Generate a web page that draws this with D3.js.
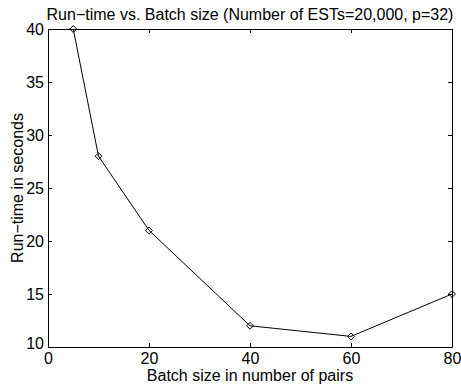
<!DOCTYPE html>
<html>
<head>
<meta charset="utf-8">
<script src="https://cdn.jsdelivr.net/npm/d3@7"></script>
<style>
  body { margin: 0; background: #fff; }
  text { font-family: "Liberation Sans", Arial, Helvetica, sans-serif; fill: #000; }
</style>
</head>
<body>
<div id="chart"></div>
<script>
// batch size (pairs) vs run-time (seconds)
var batchSizes = [5, 10, 20, 40, 60, 80];
var runTimes = [40, 28, 21, 12, 11, 15];
var xTicks = [0, 20, 40, 60, 80];
var yTicks = [10, 15, 20, 25, 30, 35, 40];

var width = 461, height = 385;
var margin = {top: 29, right: 9, bottom: 38, left: 48};
var fontSize = 16;

var svg = d3.select('#chart').append('svg')
  .attr('width', width)
  .attr('height', height);

var x = d3.scaleLinear().domain([0, 80]).range([margin.left, width - margin.right]);
var y = d3.scaleLinear().domain([10, 40]).range([height - margin.bottom, margin.top]);

var tickLen = 4;

// bottom / left axes with labels, top / right just ticks (matlab box)
var xAxis = svg.append('g')
  .attr('transform', 'translate(0,' + y(10) + ')')
  .call(d3.axisBottom(x).tickValues(xTicks).tickSizeInner(-tickLen).tickSizeOuter(0).tickPadding(6));
var yAxis = svg.append('g')
  .attr('transform', 'translate(' + x(0) + ',0)')
  .call(d3.axisLeft(y).tickValues(yTicks).tickSizeInner(-tickLen).tickSizeOuter(0).tickPadding(4));
var xTop = svg.append('g')
  .attr('transform', 'translate(0,' + y(40) + ')')
  .call(d3.axisTop(x).tickValues(xTicks).tickSizeInner(-tickLen).tickSizeOuter(0).tickFormat(''));
var yRight = svg.append('g')
  .attr('transform', 'translate(' + x(80) + ',0)')
  .call(d3.axisRight(y).tickValues(yTicks).tickSizeInner(-tickLen).tickSizeOuter(0).tickFormat(''));

[xAxis, yAxis, xTop, yRight].forEach(function(g) {
  g.selectAll('path').attr('stroke', '#000').attr('stroke-width', 1);
  g.selectAll('line').attr('stroke', '#000').attr('stroke-width', 1);
  g.selectAll('text').attr('font-size', fontSize).attr('font-family', null);
});
yAxis.selectAll('text').attr('dy', '0.35em');
// matlab nudges the lowest y label up so it clears the x labels
yAxis.selectAll('text').filter(function(d) { return d === 10; }).attr('dy', '0.1em');

// data line
var line = d3.line()
  .x(function(d, i) { return x(batchSizes[i]); })
  .y(function(d) { return y(d); });

svg.append('path')
  .datum(runTimes)
  .attr('d', line)
  .attr('fill', 'none')
  .attr('stroke', '#000')
  .attr('stroke-width', 1);

// diamond markers
svg.selectAll('.marker')
  .data(runTimes)
  .enter()
  .append('path')
  .attr('class', 'marker')
  .attr('d', d3.symbol().type(d3.symbolDiamond2).size(30))
  .attr('transform', function(d, i) { return 'translate(' + x(batchSizes[i]) + ',' + y(d) + ')'; })
  .attr('fill', 'none')
  .attr('stroke', '#000')
  .attr('stroke-width', 1);

// title and axis labels
svg.append('text')
  .attr('x', (x(0) + x(80)) / 2)
  .attr('y', 20)
  .attr('text-anchor', 'middle')
  .attr('font-size', fontSize)
  .text('Run\u2212time vs. Batch size (Number of ESTs=20,000, p=32)');

svg.append('text')
  .attr('x', (x(0) + x(80)) / 2)
  .attr('y', 381)
  .attr('text-anchor', 'middle')
  .attr('font-size', fontSize)
  .text('Batch size in number of pairs');

svg.append('text')
  .attr('transform', 'translate(23,' + (y(10) + y(40)) / 2 + ') rotate(-90)')
  .attr('text-anchor', 'middle')
  .attr('font-size', fontSize)
  .text('Run\u2212time in seconds');
</script>
</body>
</html>
